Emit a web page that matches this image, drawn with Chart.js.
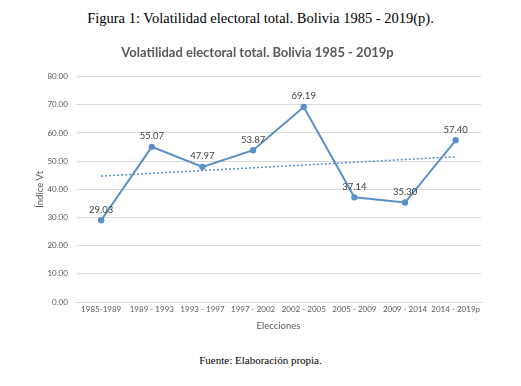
<!DOCTYPE html>
<html>
<head>
<meta charset="utf-8">
<script src="https://cdn.jsdelivr.net/npm/chart.js"></script>
<style>
  body { margin: 0; background: #fff; width: 521px; height: 386px; position: relative; overflow: hidden; }
  .cap { position: absolute; left: 0; width: 521px; text-align: center; font-family: "Liberation Serif", "Times New Roman", serif; color: #000; }
  #fig { top: 10px; font-size: 14.5px; }
  #src { top: 354px; font-size: 11px; }
  #wrap { position: absolute; left: 0; top: 35px; width: 521px; height: 303px; }
</style>
</head>
<body>
<div class="cap" id="fig">Figura 1: Volatilidad electoral total. Bolivia 1985 - 2019(p).</div>
<div id="wrap"><canvas id="myChart"></canvas></div>
<div class="cap" id="src">Fuente: Elaboración propia.</div>
<script>
// Chart data
var periods = ['1985-1989', '1989 - 1993', '1993 - 1997', '1997 - 2002', '2002 - 2005', '2005 - 2009', '2009 - 2014', '2014 - 2019p'];
var volatility = [29.03, 55.07, 47.97, 53.87, 69.19, 37.14, 35.30, 57.40];
var yTicks = [0, 10, 20, 30, 40, 50, 60, 70, 80];

// linear trend line (Excel style) from the series
function linearTrend(vals) {
  var n = vals.length, sx = 0, sy = 0, sxy = 0, sxx = 0;
  vals.forEach(function (v, i) { var x = i + 1; sx += x; sy += v; sxy += x * v; sxx += x * x; });
  var b = (n * sxy - sx * sy) / (n * sxx - sx * sx);
  var a = (sy - b * sx) / n;
  return vals.map(function (v, i) { return a + b * (i + 1); });
}
var trend = linearTrend(volatility);

var lineColor = '#5b8fc7';
var textGray = '#595959';
var font = 'Lato, "Liberation Sans", sans-serif';

// value labels above the points
var valueLabels = {
  id: 'valueLabels',
  afterDatasetsDraw: function (chart) {
    var ctx = chart.ctx;
    var meta = chart.getDatasetMeta(0);
    ctx.save();
    ctx.font = '9.5px ' + font;
    ctx.fillStyle = '#404040';
    ctx.textAlign = 'center';
    ctx.textBaseline = 'bottom';
    meta.data.forEach(function (pt, i) {
      ctx.fillText(volatility[i].toFixed(2), pt.x, pt.y - 6);
    });
    ctx.restore();
  }
};

var ctx = document.getElementById('myChart').getContext('2d');
var myChart = new Chart(ctx, {
  type: 'line',
  data: {
    labels: periods,
    datasets: [{
      label: 'Índice Vt',
      data: volatility,
      borderColor: lineColor,
      backgroundColor: lineColor,
      borderWidth: 2,
      pointRadius: 2.2,
      tension: 0
    }, {
      label: 'Lineal',
      data: trend,
      borderColor: lineColor,
      borderWidth: 1.5,
      borderDash: [2, 2],
      pointRadius: 0,
      tension: 0
    }]
  },
  options: {
    responsive: true,
    maintainAspectRatio: false,
    animation: false,
    layout: { padding: { left: 34, right: 40, top: 2, bottom: 2 } },
    plugins: {
      legend: { display: false },
      tooltip: { enabled: false },
      title: {
        display: true,
        text: 'Volatilidad electoral total. Bolivia 1985 - 2019p',
        color: textGray,
        font: { family: font, size: 13, weight: 'bold' },
        padding: { top: 8, bottom: 16 }
      }
    },
    scales: {
      x: {
        offset: true,
        grid: { display: false, drawTicks: false },
        border: { color: '#d9d9d9' },
        ticks: { color: textGray, font: { family: font, size: 8 }, maxRotation: 0, autoSkip: false, padding: 3 },
        title: { display: true, text: 'Elecciones', color: textGray, font: { family: font, size: 9.5 }, padding: { top: 3 } }
      },
      y: {
        min: 0,
        max: 80,
        afterBuildTicks: function (axis) { axis.ticks = yTicks.map(function (v) { return { value: v }; }); },
        grid: { color: '#d9d9d9', drawTicks: false },
        border: { display: false },
        ticks: { color: textGray, font: { family: font, size: 8 }, padding: 8, callback: function (v) { return v.toFixed(2); } },
        title: { display: true, text: 'Índice Vt', color: textGray, font: { family: font, size: 9.5 }, padding: { top: 0, bottom: -6 } }
      }
    }
  },
  plugins: [valueLabels]
});
</script>
</body>
</html>
